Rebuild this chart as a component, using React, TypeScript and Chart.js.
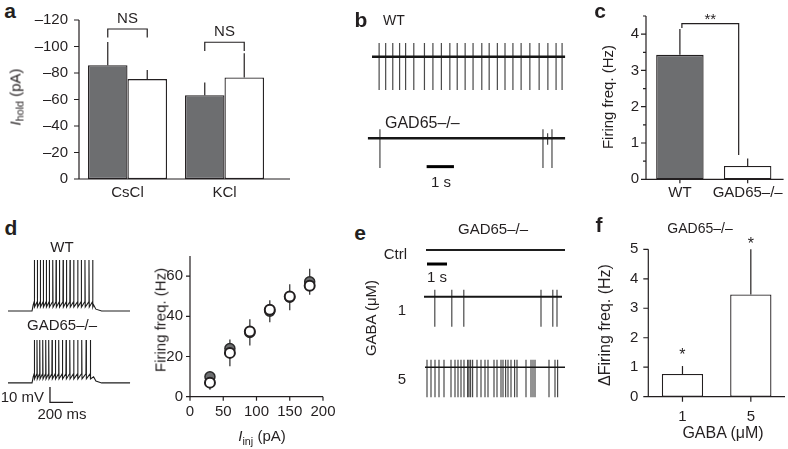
import React, { useEffect, useRef } from 'react';
import { Chart, registerables } from 'chart.js';

Chart.register(...registerables);

const FONT = '"Liberation Sans", Arial, Helvetica, sans-serif';
const INK = '#231f20';
const GREY = '#6d6e70';
Chart.defaults.font.family = FONT;
Chart.defaults.color = INK;

// ---------- a: holding current (pA) ----------
const holdGroups = ['CsCl', 'KCl'];
const holdWT = [-85.9, -63.2];
const holdWTSem = [17.5, 9.7];
const holdKO = [-75.4, -76.6];
const holdKOSem = [6.8, 18.3];

// ---------- b: spontaneous firing, spike times (s) ----------
const wtSpikeTimes = [0.26, 0.5, 0.76, 1.01, 1.23, 1.53, 1.92, 2.23, 2.54, 2.85, 3.12, 3.41, 3.7, 4.02, 4.29, 4.59, 4.87, 5.16, 5.46, 5.78, 6.12, 6.44, 6.74, 6.96];
const koSpikeTimes = [0.29, 6.26, 6.59];
const koSmallSpikeTimes = [6.43];

// ---------- c: firing frequency (Hz) ----------
const freqGroups = ['WT', 'GAD65–/–'];
const freqMean = [3.43, 0.365];
const freqSem = [0.71, 0.21];

// ---------- d: current-step responses (spike times, ms) and F–I curve ----------
const stepWTSpikes = [20, 46, 72, 98, 124, 150, 180, 209, 238, 270, 299, 330, 362, 397, 428, 460, 495, 527];
const stepKOSpikes = [20, 43, 67, 93, 119, 145, 174, 203, 232, 264, 296, 328, 362, 397, 432, 470, 507];
const injCurrents = [30, 60, 90, 120, 150, 180];
const fiWT = [9.9, 24, 32, 42.5, 49.5, 57.2];
const fiWTSem = [2.5, 4.2, 6.5, 5.5, 6.5, 6.5];
const fiKO = [7.0, 21.8, 32.5, 43.3, 49.8, 55.2];
const fiKOSem = [3.5, 6.7, 6.0, 4.5, 6.0, 4.2];

// ---------- e: GABA application, spike times (s) ----------
const ctrlSpikes: number[] = [];
const gaba1Spikes = [0.49, 1.34, 1.94, 5.8, 6.39, 6.6];
const gaba5Spikes = [0.1, 0.3, 0.5, 0.7, 0.95, 1.3, 1.5, 1.65, 1.8, 1.95, 2.13, 2.2, 2.28, 2.38, 2.6, 2.8, 3.0, 3.15, 3.45, 3.6, 3.8, 3.9, 4.03, 4.15, 4.3, 4.48, 4.6, 5.05, 5.3, 5.4, 5.5, 6.2, 6.5, 6.63];

// ---------- f: change in firing frequency (Hz) ----------
const gabaDoses = ['1', '5'];
const dFreq = [0.77, 3.47];
const dFreqSem = [0.27, 1.53];

type Pt = { x: number; y: number | null };

function spikeSegments(times: number[], base: number, up: number, down: number): Pt[] {
  const pts: Pt[] = [];
  for (const t of times) pts.push({ x: t, y: base + up }, { x: t, y: base - down }, { x: t, y: null });
  return pts;
}
function flat(t0: number, t1: number, base: number): Pt[] {
  return [{ x: t0, y: base }, { x: t1, y: base }];
}
function ccTrace(spikes: number[], rest: number, peak: number, offset: number, t0: number, t1: number, on: number, off: number): Pt[] {
  const thr = rest + 6, trough = rest + 2.6;
  const pts: Pt[] = [{ x: t0, y: rest }, { x: on, y: rest }, { x: on + 10, y: rest + 4 }];
  for (const s of spikes) pts.push({ x: s - 1.5, y: thr }, { x: s, y: peak }, { x: s + 2.5, y: trough });
  pts.push({ x: off, y: rest + 4 }, { x: off + 20, y: rest + 1.2 }, { x: off + 70, y: rest }, { x: t1, y: rest });
  return pts.map(p => ({ x: p.x, y: (p.y as number) + offset }));
}

// ---------- plugins ----------
const axesPlugin = {
  id: 'axesDraw',
  afterDraw(chart: any, _a: any, o: any) {
    if (!o || !o.enabled) return;
    const { ctx, chartArea: ca, scales } = chart;
    const xs = scales.x, ys = scales.y;
    ctx.save();
    ctx.strokeStyle = INK;
    ctx.lineWidth = o.lineWidth ?? 1.2;
    ctx.beginPath();
    ctx.moveTo(ca.left, ca.top);
    ctx.lineTo(ca.left, ca.bottom + 0.6);
    ctx.moveTo(ca.left - 0.6, ca.bottom);
    ctx.lineTo(ca.right + (o.xExtend || 0), ca.bottom);
    ys.ticks.forEach((t: any, i: number) => {
      const py = ys.getPixelForTick(i);
      const r = t.value / o.yMajor;
      const major = Math.abs(r - Math.round(r)) < 1e-6;
      const len = major ? o.yTickLen : o.yMinorLen;
      if (!len) return;
      ctx.moveTo(ca.left, py);
      ctx.lineTo(ca.left - len, py);
    });
    if (o.xTickLen) {
      xs.ticks.forEach((_t: any, i: number) => {
        const px = xs.getPixelForTick(i);
        ctx.moveTo(px, ca.bottom);
        ctx.lineTo(px, ca.bottom + o.xTickLen);
      });
    }
    ctx.stroke();
    ctx.restore();
  },
};

const errPlugin = {
  id: 'semBars',
  afterDatasetsDraw(chart: any) {
    const { ctx } = chart;
    const ys = chart.scales.y;
    chart.data.datasets.forEach((ds: any, i: number) => {
      if (!ds.sem) return;
      const meta = chart.getDatasetMeta(i);
      meta.data.forEach((el: any, j: number) => {
        const v = ds.data[j];
        const top = v + Math.sign(v) * ds.sem[j];
        ctx.save();
        ctx.strokeStyle = INK;
        ctx.lineWidth = 1.2;
        ctx.beginPath();
        ctx.moveTo(el.x, ys.getPixelForValue(v));
        ctx.lineTo(el.x, ys.getPixelForValue(top));
        ctx.stroke();
        ctx.restore();
      });
    });
  },
};

const notesPlugin = {
  id: 'notes',
  afterDraw(chart: any, _a: any, o: any) {
    if (!o || !o.items) return;
    const { ctx } = chart;
    const ys = chart.scales.y;
    const bx = (p: number[]) => chart.getDatasetMeta(p[0]).data[p[1]].x;
    ctx.save();
    ctx.strokeStyle = INK;
    ctx.fillStyle = INK;
    ctx.lineWidth = 1.2;
    for (const it of o.items) {
      if (it.kind === 'bracket') {
        const x0 = bx(it.from) + (it.dx0 || 0);
        const x1 = bx(it.to) + (it.dx1 || 0);
        const y = ys.getPixelForValue(it.y);
        ctx.beginPath();
        ctx.moveTo(x0, ys.getPixelForValue(it.leg0));
        ctx.lineTo(x0, y);
        ctx.lineTo(x1, y);
        ctx.lineTo(x1, ys.getPixelForValue(it.leg1));
        ctx.stroke();
      } else {
        const x = it.to ? (bx(it.at) + (it.dx0 || 0) + bx(it.to) + (it.dx1 || 0)) / 2 : bx(it.at);
        ctx.font = `${it.size || 15}px ${FONT}`;
        ctx.textAlign = 'center';
        ctx.textBaseline = 'alphabetic';
        ctx.fillText(it.text, x, ys.getPixelForValue(it.y));
      }
    }
    ctx.restore();
  },
};

const baseOpts = (padding: any) => ({
  responsive: false,
  animation: false,
  events: [],
  layout: { padding },
});
const noLegend = { legend: { display: false }, tooltip: { enabled: false } };
const hiddenGrid = { display: false, drawTicks: false };
const xTicks = (size: number, padding: number, extra: any = {}) => ({
  font: { size }, color: INK, padding, maxRotation: 0, minRotation: 0, autoSkip: false, ...extra,
});

function traceConfig(datasets: any[], xMin: number, xMax: number, yMin: number, yMax: number) {
  return {
    type: 'line',
    data: { datasets },
    options: {
      ...baseOpts(0),
      plugins: noLegend,
      elements: { point: { radius: 0 }, line: { tension: 0 } },
      scales: {
        x: { type: 'linear', display: false, min: xMin, max: xMax },
        y: { type: 'linear', display: false, min: yMin, max: yMax },
      },
    },
  };
}
const lineDs = (data: Pt[], color: string, width: number) => ({
  data, borderColor: color, borderWidth: width, spanGaps: false, pointRadius: 0, fill: false, borderCapStyle: 'butt',
});

// ---------- chart configurations ----------
function configA() {
  const bar = { borderColor: INK, borderWidth: 1.3, borderSkipped: false, categoryPercentage: 0.814, barPercentage: 1 };
  return {
    type: 'bar',
    data: {
      labels: holdGroups,
      datasets: [
        { ...bar, label: 'WT', data: holdWT, sem: holdWTSem, backgroundColor: GREY },
        { ...bar, label: 'GAD65–/–', data: holdKO, sem: holdKOSem, backgroundColor: '#ffffff' },
      ],
    },
    options: {
      ...baseOpts({ left: 0, top: 15, right: 27, bottom: 0 }),
      plugins: {
        ...noLegend,
        axesDraw: { enabled: true, yMajor: 20, yTickLen: 5, yMinorLen: 0, xTickLen: 0, xExtend: 17 },
        notes: {
          items: [
            { kind: 'bracket', from: [0, 0], to: [1, 0], y: -113.2, leg0: -106.8, leg1: -106.8 },
            { kind: 'text', text: 'NS', at: [0, 0], to: [1, 0], y: -117.6 },
            { kind: 'bracket', from: [0, 1], to: [1, 1], y: -103.2, leg0: -96.6, leg1: -96.6 },
            { kind: 'text', text: 'NS', at: [0, 1], to: [1, 1], y: -108.3 },
          ],
        },
      },
      scales: {
        x: { type: 'category', grid: hiddenGrid, border: { display: false }, ticks: xTicks(15, 5), afterFit: (s: any) => { s.height = 31; } },
        y: {
          type: 'linear', min: -120, max: 0, reverse: true, grid: hiddenGrid, border: { display: false },
          ticks: { stepSize: 20, autoSkip: false, font: { size: 15 }, color: INK, padding: 11, callback: (v: number) => (v === 0 ? '0' : '–' + Math.abs(v)) },
          afterFit: (s: any) => { s.width = 59; },
        },
      },
    },
    plugins: [axesPlugin, errPlugin, notesPlugin],
  };
}

function configB() {
  const wtBase = 0, koBase = -2.47;
  return traceConfig([
    lineDs(flat(0, 7.07, wtBase), '#161616', 2.6),
    lineDs(spikeSegments(wtSpikeTimes, wtBase, 0.415, 1.01), '#4a4a4a', 1.2),
    lineDs(flat(-0.15, 7.07, koBase), '#161616', 2.6),
    lineDs(spikeSegments(koSpikeTimes, koBase, 0.27, 0.9), '#4a4a4a', 1.2),
    lineDs(spikeSegments(koSmallSpikeTimes, koBase, 0.15, 0.2), '#4a4a4a', 1.2),
    lineDs(flat(2, 3, -3.33), '#000000', 3),
  ], -0.44, 7.25, -3.735, 0.81);
}

function configC() {
  return {
    type: 'bar',
    data: {
      labels: freqGroups,
      datasets: [{ data: freqMean, sem: freqSem, backgroundColor: [GREY, '#ffffff'], borderColor: INK, borderWidth: 1.3, borderSkipped: false, categoryPercentage: 1, barPercentage: 0.7 }],
    },
    options: {
      ...baseOpts({ left: 0, top: 15, right: 2, bottom: 0 }),
      plugins: {
        ...noLegend,
        axesDraw: { enabled: true, yMajor: 1, yTickLen: 5, yMinorLen: 3, xTickLen: 4, xExtend: 2 },
        notes: {
          items: [
            { kind: 'bracket', from: [0, 0], to: [0, 1], dx0: 2, dx1: -9, y: 4.29, leg0: 4.17, leg1: 0.67 },
            { kind: 'text', text: '**', at: [0, 0], to: [0, 1], dx0: 2, dx1: -9, y: 4.28 },
          ],
        },
      },
      scales: {
        x: { type: 'category', grid: hiddenGrid, border: { display: false }, ticks: xTicks(15, 4.8), afterFit: (s: any) => { s.height = 30.7; } },
        y: {
          type: 'linear', min: 0, max: 4.5, grid: hiddenGrid, border: { display: false },
          ticks: { stepSize: 0.5, autoSkip: false, font: { size: 15 }, color: INK, padding: 7, callback: (v: number) => (Number.isInteger(v) ? String(v) : '') },
          afterFit: (s: any) => { s.width = 56; },
        },
      },
    },
    plugins: [axesPlugin, errPlugin, notesPlugin],
  };
}

function configDTraces() {
  const koOffset = -47;
  return traceConfig([
    lineDs(ccTrace(stepWTSpikes, -70, -36.7, 0, -209, 852, 0, 535), '#1e1e1e', 1.1),
    lineDs(ccTrace(stepKOSpikes, -70, -42, koOffset, -209, 852, 0, 535), '#1e1e1e', 1.1),
    lineDs([{ x: 156, y: -119.7 }, { x: 156, y: -129.7 }, { x: 356, y: -129.7 }], INK, 1.3),
  ], -235, 895, -134.7, -23.6);
}

function configDScatter() {
  const err: Pt[] = [];
  injCurrents.forEach((x, i) => {
    err.push({ x, y: fiWT[i] - fiWTSem[i] }, { x, y: fiWT[i] + fiWTSem[i] }, { x, y: null });
    err.push({ x, y: fiKO[i] - fiKOSem[i] }, { x, y: fiKO[i] + fiKOSem[i] }, { x, y: null });
  });
  return {
    type: 'scatter',
    data: {
      datasets: [
        { type: 'line', data: err, showLine: true, spanGaps: false, borderColor: '#3a3a3a', borderWidth: 1.3, pointRadius: 0, order: 3 },
        { label: 'WT', data: injCurrents.map((x, i) => ({ x, y: fiWT[i] })), pointRadius: 5, backgroundColor: GREY, borderColor: '#2a2a2a', borderWidth: 1.5, order: 2 },
        { label: 'GAD65–/–', data: injCurrents.map((x, i) => ({ x, y: fiKO[i] })), pointRadius: 5, backgroundColor: '#ffffff', borderColor: INK, borderWidth: 2, order: 1 },
      ],
    },
    options: {
      ...baseOpts({ left: 0, top: 9.3, right: 14, bottom: 0 }),
      plugins: { ...noLegend, axesDraw: { enabled: true, yMajor: 20, yTickLen: 4, yMinorLen: 0, xTickLen: 4, xExtend: 0 } },
      scales: {
        x: { type: 'linear', min: 0, max: 200, grid: hiddenGrid, border: { display: false }, ticks: xTicks(15, 6.5, { stepSize: 50 }), afterFit: (s: any) => { s.height = 52.3; } },
        y: {
          type: 'linear', min: 0, max: 70, grid: hiddenGrid, border: { display: false },
          ticks: { stepSize: 20, includeBounds: false, autoSkip: false, font: { size: 15 }, color: INK, padding: 7 },
          afterFit: (s: any) => { s.width = 40; },
        },
      },
    },
    plugins: [axesPlugin],
  };
}

function configE() {
  const ctrlBase = 0, g1Base = -1.557, g5Base = -3.91;
  return traceConfig([
    lineDs(flat(0.05, 7.0, ctrlBase), '#1e1e1e', 2),
    lineDs(spikeSegments(ctrlSpikes, ctrlBase, 0.23, 1.0), '#4a4a4a', 1.2),
    lineDs(flat(-0.05, 6.85, g1Base), '#161616', 2),
    lineDs(spikeSegments(gaba1Spikes, g1Base, 0.23, 1.0), '#4a4a4a', 1.2),
    lineDs(flat(0, 7.0, g5Base), '#161616', 1.6),
    lineDs(spikeSegments(gaba5Spikes, g5Base, 0.25, 1.0), '#4a4a4a', 1.2),
    lineDs(flat(0.1, 1.1, -0.467), '#000000', 3),
  ], -0.5, 7.5, -5.333, 0.5);
}

function configF() {
  return {
    type: 'bar',
    data: {
      labels: gabaDoses,
      datasets: [{ data: dFreq, sem: dFreqSem, backgroundColor: '#ffffff', borderColor: INK, borderWidth: 1.3, borderSkipped: false, categoryPercentage: 1, barPercentage: 0.604 }],
    },
    options: {
      ...baseOpts({ left: 0, top: 24.3, right: 3, bottom: 0 }),
      plugins: {
        ...noLegend,
        axesDraw: { enabled: true, yMajor: 1, yTickLen: 5, yMinorLen: 0, xTickLen: 5, xExtend: 0 },
        notes: {
          items: [
            { kind: 'text', text: '*', at: [0, 0], y: 1.24, size: 16 },
            { kind: 'text', text: '*', at: [0, 1], y: 5.0, size: 16 },
          ],
        },
      },
      scales: {
        x: { type: 'category', grid: hiddenGrid, border: { display: false }, ticks: xTicks(15, 11), afterFit: (s: any) => { s.height = 52.3; } },
        y: {
          type: 'linear', min: 0, max: 5, grid: hiddenGrid, border: { display: false },
          ticks: { stepSize: 1, autoSkip: false, font: { size: 15 }, color: INK, padding: 10 },
          afterFit: (s: any) => { s.width = 53.3; },
        },
      },
    },
    plugins: [axesPlugin, errPlugin, notesPlugin],
  };
}

// ---------- components ----------
function ChartBox({ left, top, width, height, make }: { left: number; top: number; width: number; height: number; make: () => any }) {
  const ref = useRef<HTMLCanvasElement>(null);
  useEffect(() => {
    const chart = new Chart(ref.current as HTMLCanvasElement, make());
    return () => chart.destroy();
  }, []);
  return (
    <div style={{ position: 'absolute', left, top, width, height }}>
      <canvas ref={ref} width={width} height={height} style={{ width, height, display: 'block' }} />
    </div>
  );
}

function T({ x, b, size = 15, align = 'center', bold = false, children }: any) {
  const tx = align === 'center' ? '-50%' : align === 'right' ? '-100%' : '0';
  return (
    <div style={{ position: 'absolute', left: x, top: b - 0.8465 * size, fontSize: size, lineHeight: 1, fontWeight: bold ? 700 : 400, whiteSpace: 'nowrap', transform: `translateX(${tx})` }}>
      {children}
    </div>
  );
}
function R({ x, y, size = 15, children }: any) {
  return (
    <div style={{ position: 'absolute', left: x, top: y, fontSize: size, lineHeight: 1, whiteSpace: 'nowrap', transform: 'translate(-50%,-50%) rotate(-90deg)' }}>
      {children}
    </div>
  );
}
const Sub = ({ children }: any) => (
  <span style={{ fontSize: '0.72em', position: 'relative', top: '0.32em' }}>{children}</span>
);

export default function App() {
  return (
    <div style={{ position: 'fixed', left: 0, top: 0, width: 788, height: 449, background: '#ffffff', overflow: 'hidden', fontFamily: FONT, color: INK }}>
      <ChartBox left={20} top={0} width={280} height={210} make={configA} />
      <ChartBox left={360} top={30} width={210} height={150} make={configB} />
      <ChartBox left={590} top={0} width={198} height={210} make={configC} />
      <ChartBox left={5} top={240} width={130} height={170} make={configDTraces} />
      <ChartBox left={150} top={240} width={192} height={209} make={configDScatter} />
      <ChartBox left={415} top={235} width={160} height={175} make={configE} />
      <ChartBox left={595} top={225} width={193} height={224} make={configF} />

      <T x={10} b={18} size={21} bold>a</T>
      <T x={361} b={27} size={21} bold>b</T>
      <T x={600} b={18} size={21} bold>c</T>
      <T x={11} b={235} size={21} bold>d</T>
      <T x={360} b={240} size={21} bold>e</T>
      <T x={599} b={232} size={21} bold>f</T>

      <R x={15} y={97}><i>I</i><Sub>hold</Sub> (pA)</R>

      <T x={383} b={25} size={14} align="left">WT</T>
      <T x={385} b={128.3} size={16} align="left">GAD65–/–</T>
      <T x={441} b={186.7}>1 s</T>

      <R x={607} y={97}>Firing freq. (Hz)</R>

      <T x={62} b={252}>WT</T>
      <T x={62} b={330}>GAD65–/–</T>
      <T x={44} b={402} align="right">10 mV</T>
      <T x={62} b={419}>200 ms</T>
      <R x={160} y={320}>Firing freq. (Hz)</R>
      <T x={262} b={441}><i>I</i><Sub>inj</Sub> (pA)</T>

      <T x={493} b={234}>GAD65–/–</T>
      <T x={407} b={259} align="right">Ctrl</T>
      <T x={437} b={281.7}>1 s</T>
      <T x={402} b={315}>1</T>
      <T x={402} b={383.3}>5</T>
      <R x={370} y={318}>GABA (μM)</R>

      <T x={700} b={233} size={14}>GAD65–/–</T>
      <R x={605} y={325} size={16}>ΔFiring freq. (Hz)</R>
      <T x={723} b={439} size={16}>GABA (μM)</T>
    </div>
  );
}
